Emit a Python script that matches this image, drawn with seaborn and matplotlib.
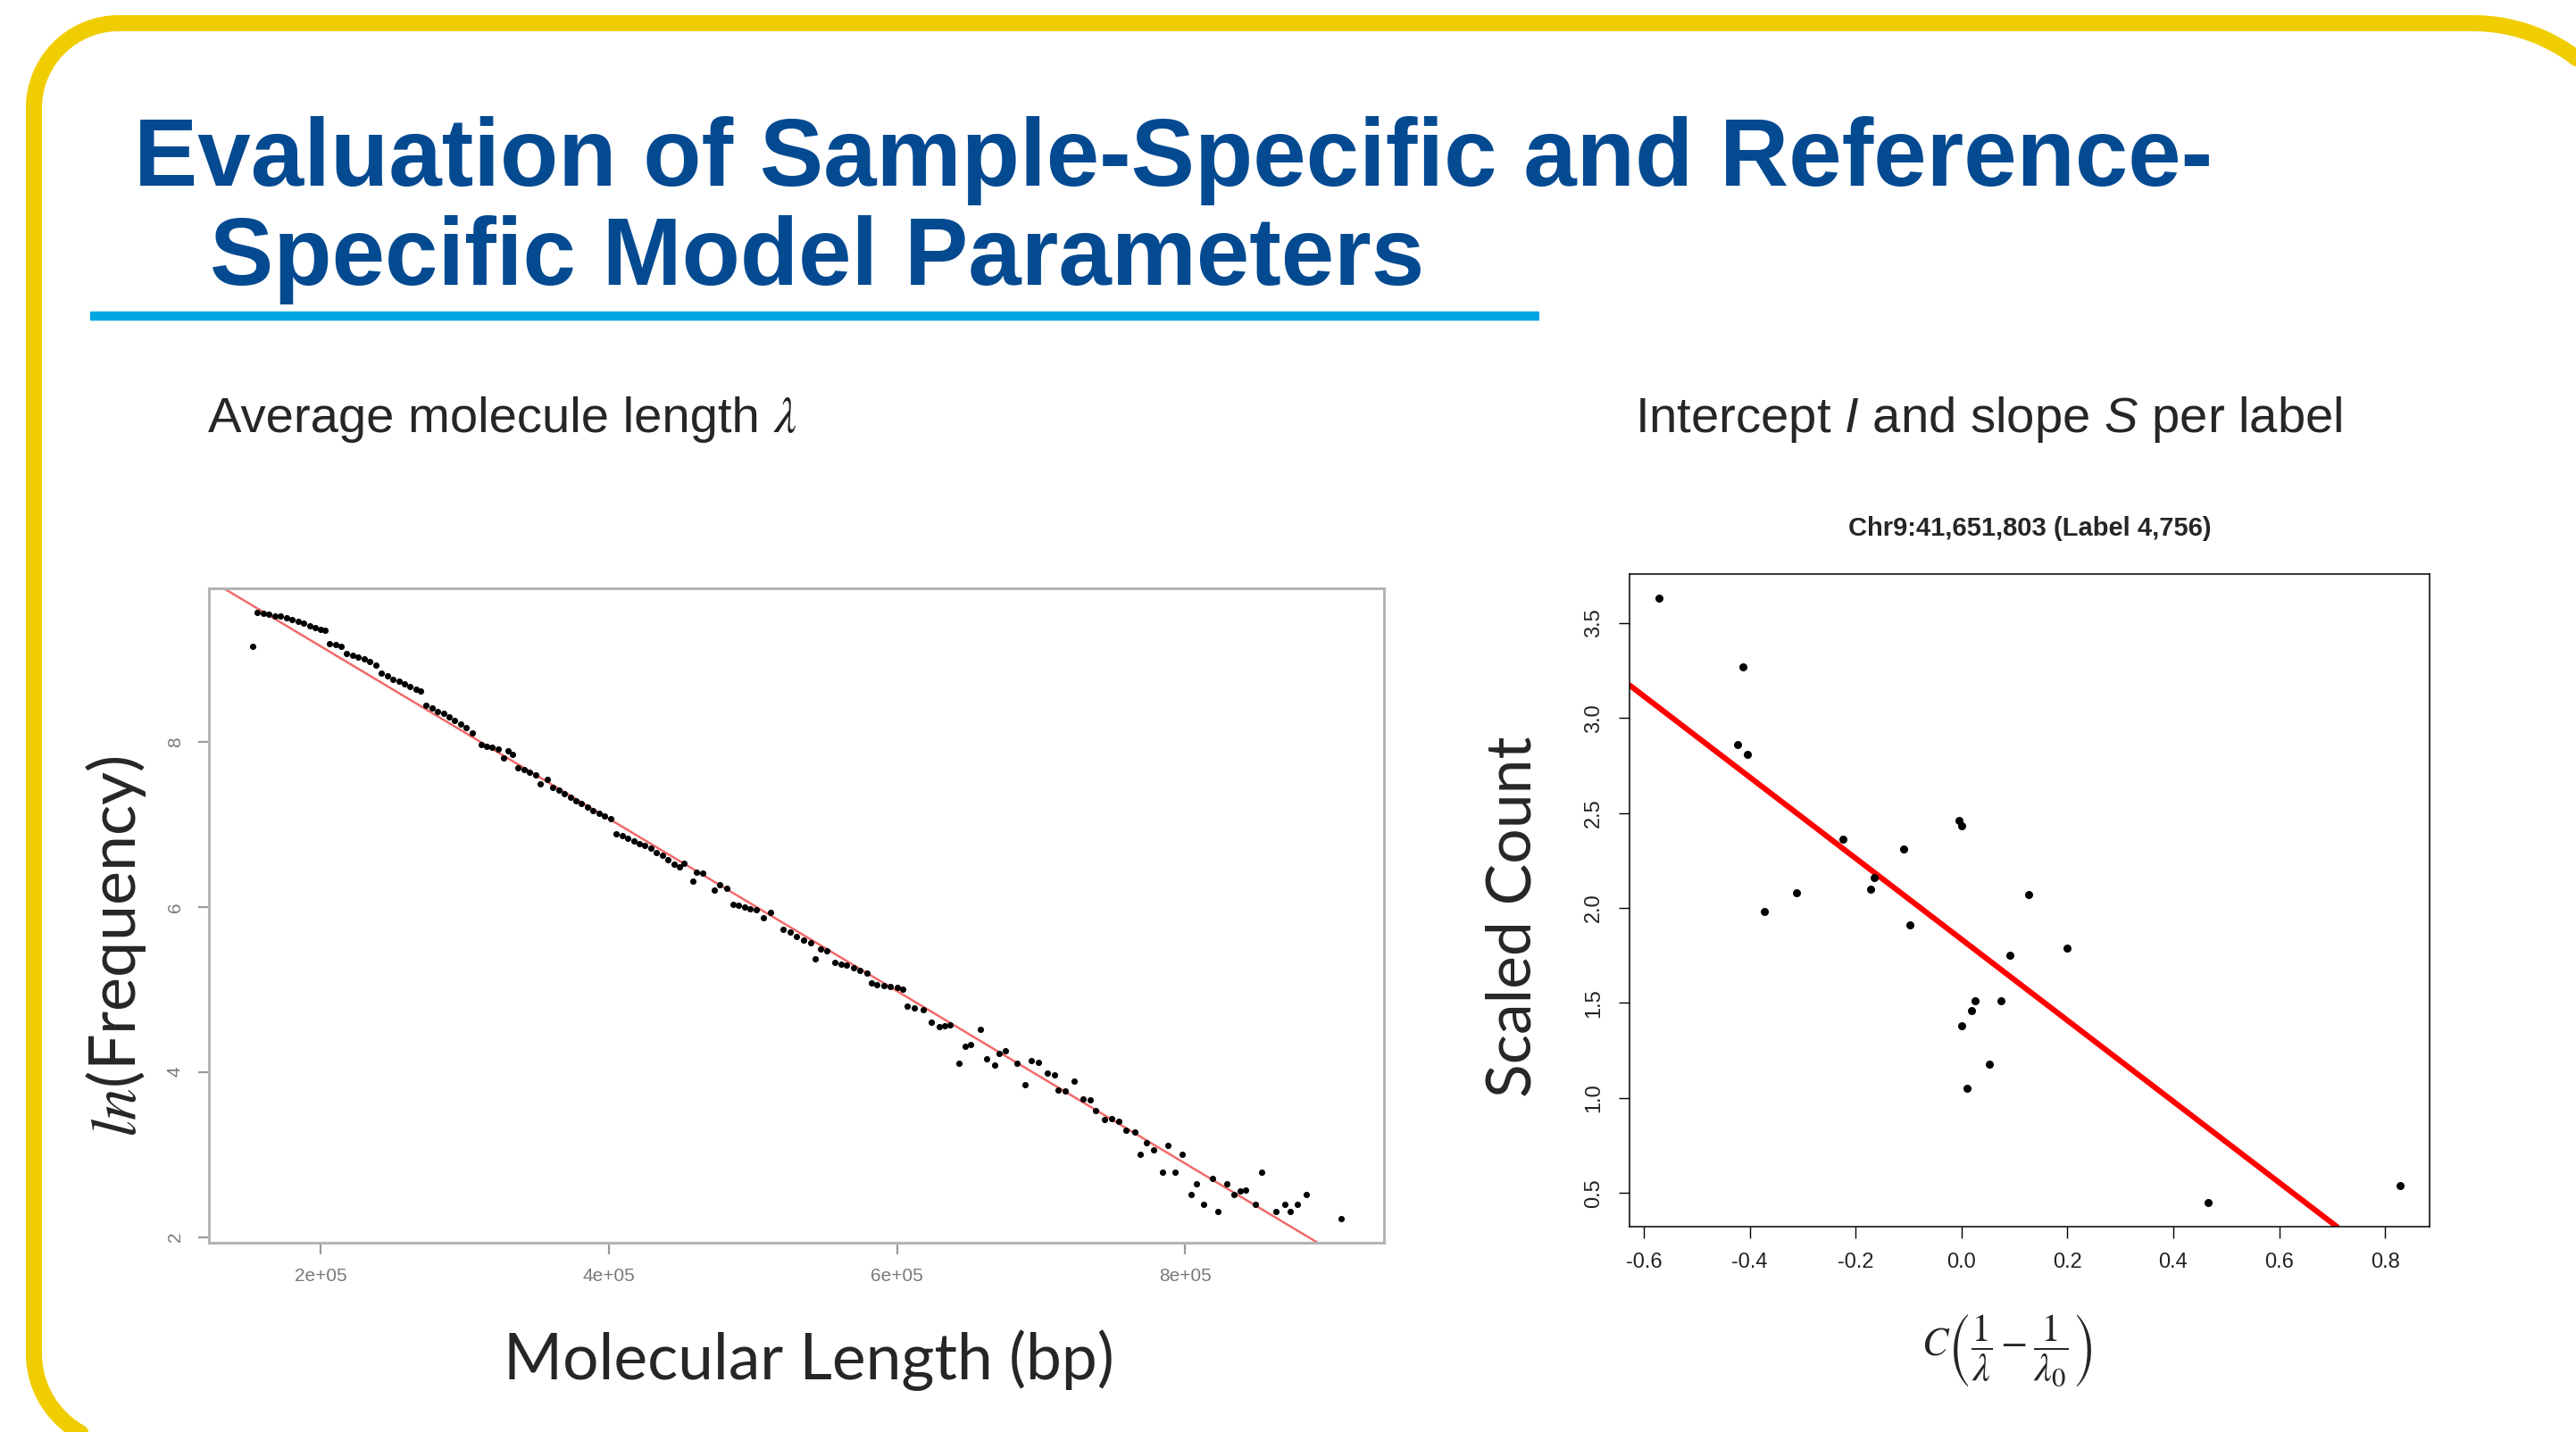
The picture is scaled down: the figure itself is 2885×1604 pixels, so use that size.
import matplotlib
matplotlib.use("Agg")
import numpy as np
import matplotlib.pyplot as plt
import seaborn as sns

# Left panel: molecule length vs ln(frequency)
LEN_BP = [152400,
          156000, 160000, 164000, 168000, 172000, 176000, 180000, 184000, 188000, 192000, 196000, 200000, 203000,
          206000, 210000, 214000,
          218000, 222000, 226000, 230000, 234000, 238000,
          242000, 246000, 250000, 254000, 258000, 262000, 266000, 269000,
          273000, 277000, 281000, 285000, 289000, 293000, 297000, 301000, 305000,
          311000, 315000, 319000, 323000, 327000, 330000, 333000,
          337000, 341000, 345000, 349000, 352000, 357000,
          361000, 365000, 369000, 373000, 377000, 381000, 385000, 389000, 393000, 397000, 401000,
          405000, 409000, 413000, 417000, 421000, 425000, 429000, 433000, 437000, 441000, 445000, 449000, 452000,
          458000, 461000, 465000, 473000, 477000, 482000,
          486000, 490000, 494000, 498000, 502000, 507000, 512000,
          521000, 526000, 530000, 535000, 540000, 543000, 547000, 551000,
          557000, 561000, 565000, 570000, 574000, 579000,
          582000, 586000, 591000, 595000, 600000, 604000,
          607000, 612000, 618000, 624000, 629000, 633000, 637000,
          643000, 647000, 651000, 658000, 662000, 668000, 671000, 675000,
          683000, 689000, 693000, 698000, 704000, 709000, 712000, 717000, 723000,
          729000, 734000, 738000, 744000, 749000, 754000, 759000, 765000,
          769000, 773000, 778000, 784000, 788000, 793000, 798000,
          804000, 808000, 813000, 819000, 823000, 829000, 834000, 838000, 842000,
          849000, 853000, 863000, 869000, 873000, 878000, 884000, 908000]
LN_FREQ = [9.16,
           9.57, 9.56, 9.55, 9.53, 9.52, 9.50, 9.48, 9.46, 9.44, 9.41, 9.38, 9.36, 9.35,
           9.19, 9.18, 9.16,
           9.07, 9.05, 9.03, 9.00, 8.97, 8.93,
           8.83, 8.80, 8.76, 8.73, 8.70, 8.67, 8.64, 8.62,
           8.44, 8.41, 8.37, 8.34, 8.30, 8.26, 8.22, 8.17, 8.11,
           7.97, 7.95, 7.93, 7.91, 7.80, 7.89, 7.85,
           7.69, 7.66, 7.63, 7.60, 7.49, 7.55,
           7.45, 7.41, 7.37, 7.33, 7.29, 7.25, 7.21, 7.17, 7.13, 7.10, 7.07,
           6.88, 6.86, 6.83, 6.80, 6.77, 6.74, 6.71, 6.66, 6.62, 6.57, 6.52, 6.48, 6.53,
           6.31, 6.42, 6.41, 6.20, 6.27, 6.23,
           6.03, 6.02, 6.00, 5.98, 5.96, 5.87, 5.93,
           5.73, 5.70, 5.64, 5.60, 5.57, 5.37, 5.49, 5.47,
           5.33, 5.31, 5.29, 5.26, 5.23, 5.20,
           5.08, 5.06, 5.05, 5.04, 5.02, 5.00,
           4.80, 4.78, 4.75, 4.60, 4.55, 4.56, 4.57,
           4.10, 4.31, 4.33, 4.52, 4.16, 4.08, 4.22, 4.26,
           4.10, 3.84, 4.14, 4.12, 3.99, 3.96, 3.78, 3.77, 3.89,
           3.67, 3.66, 3.53, 3.42, 3.43, 3.40, 3.29, 3.27,
           3.00, 3.14, 3.06, 2.78, 3.11, 2.78, 3.00,
           2.51, 2.64, 2.40, 2.71, 2.31, 2.64, 2.51, 2.56, 2.57,
           2.40, 2.78, 2.31, 2.40, 2.31, 2.40, 2.51, 2.22]
LEN_FIT = (11.244, -1.0442e-5)          # intercept, slope
LEN_XTICKS = [200000, 400000, 600000, 800000]
LEN_XTICKLABELS = ["2e+05", "4e+05", "6e+05", "8e+05"]
LEN_YTICKS = [2, 4, 6, 8]

# Right panel: per-label intercept / slope
INV_LAMBDA = [-0.571, -0.412, -0.423, -0.404, -0.372, -0.312, -0.224, -0.172, -0.165, -0.109,
              -0.097, -0.004, 0.001, 0.001, 0.011, 0.019, 0.025, 0.052, 0.074, 0.091,
              0.127, 0.199, 0.466, 0.828]
SCALED_COUNT = [3.63, 3.27, 2.86, 2.81, 1.98, 2.08, 2.36, 2.10, 2.16, 2.31,
                1.91, 2.46, 2.43, 1.38, 1.05, 1.46, 1.51, 1.18, 1.51, 1.75,
                2.07, 1.79, 0.45, 0.54]
LABEL_FIT = (1.835, -2.133)
LABEL_XTICKS = [-0.6, -0.4, -0.2, 0.0, 0.2, 0.4, 0.6, 0.8]
LABEL_YTICKS = [0.5, 1.0, 1.5, 2.0, 2.5, 3.0, 3.5]

TITLE_1 = "Evaluation of Sample-Specific and Reference-"
TITLE_2 = "Specific Model Parameters"

sns.set_style("ticks")
plt.rcParams["font.family"] = ["Liberation Sans", "DejaVu Sans"]
plt.rcParams["axes.unicode_minus"] = False
plt.rcParams["mathtext.it"] = "Liberation Sans:italic"
plt.rcParams["mathtext.rm"] = "Liberation Sans"
plt.rcParams["mathtext.bf"] = "Liberation Sans:bold"

W, H = 2885, 1604
fig = plt.figure(figsize=(W / 100, H / 100), dpi=100)
renderer = fig.canvas.get_renderer()

# slide background in pixel coords (y down)
bg = fig.add_axes([0, 0, 1, 1])
bg.set_xlim(0, W)
bg.set_ylim(H, 0)
bg.axis("off")

# rounded yellow frame, running off the right and bottom edges
L, T, R, B = 38, 26, 2960, 1618
corners = [(L + 95, T + 95, 95, np.pi, 1.5 * np.pi),
           (R - 190, T + 190, 190, 1.5 * np.pi, 2 * np.pi),
           (R - 102, B - 102, 102, 0, 0.5 * np.pi),
           (L + 102, B - 102, 102, 0.5 * np.pi, np.pi)]
fx, fy = [], []
for cx, cy, r, a0, a1 in corners:
    a = np.linspace(a0, a1, 40)
    fx.extend(cx + r * np.cos(a))
    fy.extend(cy + r * np.sin(a))
fx.append(fx[0])
fy.append(fy[0])
bg.plot(fx, fy, color="#F0CD00", linewidth=13, clip_on=False, solid_joinstyle="round")
bg.plot([101, 1724], [354, 354], color="#00A6E2", linewidth=7.5, solid_capstyle="butt")


def fit(t, target, vertical=False):
    bb = t.get_window_extent(renderer)
    size = bb.height if vertical else bb.width
    t.set_fontsize(t.get_fontsize() * target / size)


blue = "#044A91"
t1 = bg.text(150, 208, TITLE_1, fontsize=77, fontweight="bold", color=blue, va="baseline")
fit(t1, 2328)
bg.text(235, 319, TITLE_2, fontsize=t1.get_fontsize(), fontweight="bold", color=blue, va="baseline")

bg.text(233, 484, "Average molecule length", fontsize=40.5, va="baseline")
bg.text(866, 484, r"$\lambda$", fontsize=40, va="baseline", color="#222222", math_fontfamily="stix")
bg.text(1831, 484, r"Intercept $I$ and slope $S$ per label", fontsize=40.5, va="baseline",
        math_fontfamily="custom")

lato = ["Lato", "DejaVu Sans"]
t = bg.text(130, 1060, r"$ln$(Frequency)", family=lato, fontsize=44, rotation=90,
            ha="center", va="center", math_fontfamily="stix")
fit(t, 428, vertical=True)
t = bg.text(906, 1545, "Molecular Length (bp)", family=lato, fontsize=55, ha="center", va="baseline")
fit(t, 684)
t = bg.text(1695, 1027, "Scaled Count", family=lato, fontsize=44, rotation=90, ha="center", va="center")
fit(t, 405, vertical=True)
t = bg.text(2248, 1513, r"$C\left(\dfrac{1}{\lambda}-\dfrac{1}{\lambda_0}\right)$", fontsize=26,
            ha="center", va="center", math_fontfamily="stix")
fit(t, 86, vertical=True)

# left chart
ax1 = fig.add_axes([233.6 / W, 1 - 1392 / H, (1550 - 233.6) / W, (1392 - 659) / H])
ax1.axline((0, LEN_FIT[0]), slope=LEN_FIT[1], color="#F26A6A", linewidth=1.8, zorder=1)
sns.scatterplot(x=LEN_BP, y=LN_FREQ, ax=ax1, color="black", s=26, linewidth=0, zorder=2)
ax1.set_xlim(122000, 938000)
ax1.set_ylim(1.93, 9.86)
ax1.set_xticks(LEN_XTICKS)
ax1.set_xticklabels(LEN_XTICKLABELS)
ax1.set_yticks(LEN_YTICKS)
ax1.set_yticklabels([str(v) for v in LEN_YTICKS], rotation=90, va="center")
ax1.tick_params(length=9, width=1.6, color="#9a9a9a", labelcolor="#7a7a7a", labelsize=15, pad=11)
for s in ax1.spines.values():
    s.set_visible(True)
    s.set_color("#b4b4b4")
    s.set_linewidth(2.2)

# right chart
ax2 = fig.add_axes([1825 / W, 1 - 1374 / H, 896 / W, 731 / H])
ax2.axline((0, LABEL_FIT[0]), slope=LABEL_FIT[1], color="#FF0000", linewidth=4.5, zorder=1)
sns.scatterplot(x=INV_LAMBDA, y=SCALED_COUNT, ax=ax2, color="black", s=42, linewidth=0, zorder=2)
ax2.set_xlim(-0.627, 0.884)
ax2.set_ylim(0.323, 3.757)
ax2.set_xticks(LABEL_XTICKS)
ax2.set_xticklabels([f"{v:.1f}" for v in LABEL_XTICKS])
ax2.set_yticks(LABEL_YTICKS)
ax2.set_yticklabels([f"{v:.1f}" for v in LABEL_YTICKS], rotation=90, va="center")
ax2.tick_params(length=9, width=1.0, color="black", labelcolor="#222222", labelsize=17, pad=12)
for s in ax2.spines.values():
    s.set_visible(True)
    s.set_color("black")
    s.set_linewidth(1.1)
ax2.set_title("Chr9:41,651,803 (Label 4,756)", fontsize=21, fontweight="bold", pad=31)

fig.savefig("out.png", dpi=100, facecolor="white")
